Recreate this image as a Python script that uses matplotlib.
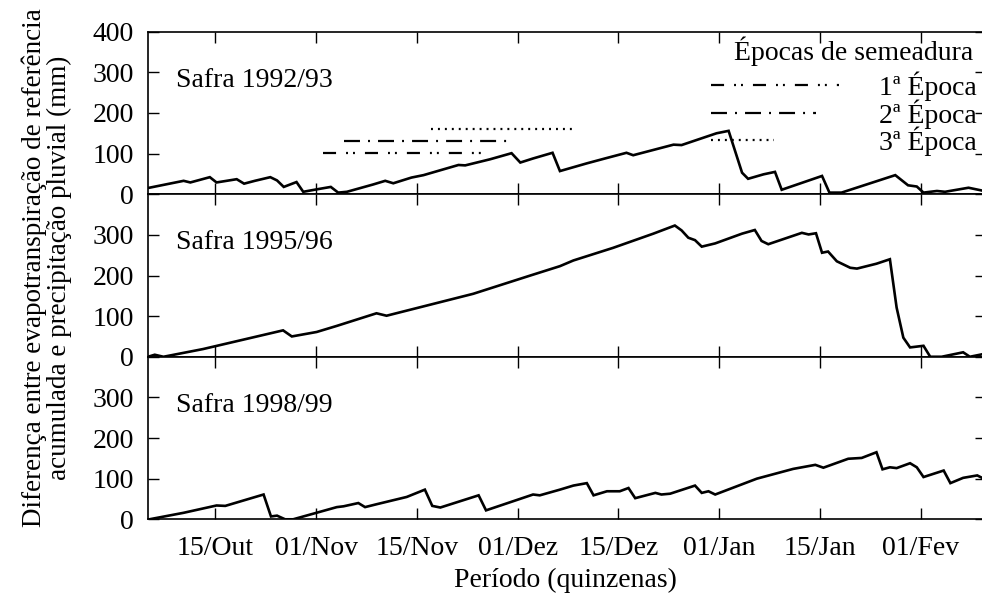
# -*- coding: UTF-8 -*-
import numpy as np
import matplotlib
matplotlib.use('Agg')
import matplotlib.pyplot as plt
from matplotlib.legend_handler import HandlerLine2D

plt.rcParams['font.family'] = ['Liberation Serif', 'DejaVu Serif']
plt.rcParams['lines.scale_dashes'] = False

# eixo x em dias (marcas a cada quinzena)
quinzenas = [15, 30, 45, 60, 75, 90, 105, 120]
rotulos_x = ['15/Out', '01/Nov', '15/Nov', '01/Dez', '15/Dez', '01/Jan', '15/Jan', '01/Fev']

# Safra 1992/93
dias_9293 = [5.2, 10.3, 11.3, 14.2, 15.2, 18.2, 19.3, 20.9, 23.2, 24.2, 25.2, 27.1, 28.1, 30.1,
	32.2, 33.3, 34.6, 38.5, 40.3, 41.5, 44.2, 46.0, 51.2, 52.2, 55.9, 59.1, 60.4, 62.3, 65.2,
	66.3, 70.3, 73.0, 76.2, 77.2, 80.2, 83.2, 84.4, 89.6, 91.4, 93.4, 94.3, 96.6, 98.3, 99.3,
	105.3, 106.4, 108.2, 116.2, 118.1, 119.4, 120.4, 122.4, 123.6, 127.1, 129.7]
dif_9293 = [16, 33, 29, 42, 29, 37, 26, 33, 42, 34, 18, 30, 6, 12,
	18, 4, 6, 24, 33, 27, 41, 47, 72, 71, 86, 101, 78, 88, 102,
	57, 76, 88, 102, 96, 109, 122, 121, 150, 156, 53, 38, 49, 55, 11,
	45, 4, 4, 47, 22, 19, 4, 8, 6, 16, 7]

# Safra 1995/96
dias_9596 = [5.2, 6.0, 7.3, 13.2, 25.1, 26.4, 30.1, 33.1, 39.0, 40.5, 53.4, 61.9, 66.3, 68.3,
	74.2, 80.2, 83.4, 84.4, 85.4, 86.4, 87.4, 89.4, 93.4, 95.3, 96.3, 97.3, 102.3, 103.3, 104.4,
	105.3, 106.2, 107.5, 109.5, 110.5, 113.4, 115.4, 116.4, 117.4, 118.4, 120.4, 121.4, 123.1,
	126.3, 127.3, 129.7]
dif_9596 = [1, 5, 0, 19, 65, 50, 61, 76, 107, 101, 155, 200, 223, 237,
	268, 303, 323, 311, 293, 287, 271, 279, 303, 312, 285, 277, 305, 301, 304,
	256, 259, 235, 219, 217, 229, 240, 121, 47, 23, 27, 0, 0,
	11, 0, 8]

# Safra 1998/99
dias_9899 = [5.2, 10.3, 15.2, 16.5, 22.2, 23.3, 24.2, 25.4, 26.6, 33.1, 34.1, 36.3, 37.3, 39.0,
	43.5, 46.2, 47.3, 48.5, 54.2, 55.3, 62.3, 63.3, 66.3, 68.3, 70.3, 71.3, 73.3, 75.2, 76.5,
	77.5, 80.5, 81.4, 82.7, 86.4, 87.4, 88.4, 89.4, 95.6, 101.0, 104.3, 105.5, 109.2, 111.2,
	113.4, 114.3, 115.4, 116.4, 118.4, 119.4, 120.4, 123.4, 124.4, 126.3, 128.4, 129.7]
dif_9899 = [0, 16, 34, 33, 61, 7, 9, 0, 0, 30, 32, 40, 30, 37,
	55, 73, 33, 29, 59, 22, 61, 59, 73, 83, 89, 59, 69, 69, 77,
	52, 65, 61, 63, 83, 65, 69, 61, 100, 124, 134, 127, 149, 151,
	165, 123, 128, 126, 138, 128, 104, 120, 89, 102, 108, 97]

# Épocas de semeadura (inicio, fim, nivel)
epocas = ['1ª Época', '2ª Época', '3ª Época']
epoca_inicio = [31.0, 34.2, 47.1]
epoca_fim = [55.6, 59.0, 68.2]
epoca_nivel = [101, 131, 160]
epoca_tracos = [(0, (9.4, 7.2, 1.4, 3.6, 1.4, 7.2)), (0, (11.5, 5.8, 1.4, 5.8)), (0, (1.4, 3.6))]
# comprimento relativo da amostra na legenda
epoca_amostra = [1.0, 0.82, 0.49]

safras = ['Safra 1992/93', 'Safra 1995/96', 'Safra 1998/99']


class HandlerCurto(HandlerLine2D):
	def __init__(self, fator, **kw):
		HandlerLine2D.__init__(self, **kw)
		self.fator = fator

	def get_xdata(self, legend, xdescent, ydescent, width, height, fontsize):
		return HandlerLine2D.get_xdata(self, legend, xdescent, ydescent, width*self.fator, height, fontsize)


def main():
	fig, axes = plt.subplots(3, 1, figsize=(9.82, 5.98), dpi=100, sharex=True,
		gridspec_kw=dict(left=148/982., right=986/982., bottom=1-519.3/598., top=1-31.7/598., hspace=0))

	series = [(dias_9293, dif_9293), (dias_9596, dif_9596), (dias_9899, dif_9899)]
	for i, ax in enumerate(axes):
		x, y = series[i]
		ax.plot(x, y, color='black', linewidth=1.9, solid_joinstyle='miter')
		ax.set_xlim(5, 129.7)
		ax.set_ylim(0, 400)
		ax.set_xticks(quinzenas)
		ax.set_yticks([0, 100, 200, 300, 400])
		if i > 0:
			ax.set_yticklabels(['0', '100', '200', '300', ''])
		ax.tick_params(direction='in', top=True, right=True, length=8, width=1.0,
			labelsize=20, pad=10, colors='black')
		ax.tick_params(axis='x', pad=12)
		for s in ax.spines.values():
			s.set_linewidth(1.2)
		ax.text(0.033, 0.66, safras[i], transform=ax.transAxes, fontsize=20, va='baseline', ha='left')

	axes[2].set_xticklabels(rotulos_x)

	# linhas das épocas de semeadura
	ax = axes[0]
	linhas = []
	for k in range(3):
		l, = ax.plot([epoca_inicio[k], epoca_fim[k]], [epoca_nivel[k], epoca_nivel[k]], color='black',
			linewidth=1.6, linestyle=epoca_tracos[k], label=epocas[k])
		linhas.append(l)
	ax.legend(loc='upper right', bbox_to_anchor=((977-148)/838., (194-71.5)/162.3), frameon=False,
		fontsize=20, borderpad=0, borderaxespad=0, labelspacing=-0.07,
		handlelength=4.6, handletextpad=1.45,
		handler_map={linhas[k]: HandlerCurto(epoca_amostra[k]) for k in range(3)})
	ax.text((973-148)/838., (194-51)/162.3, 'Épocas de semeadura', transform=ax.transAxes,
		fontsize=20, ha='right', va='center')

	fig.text(565/982., 1-580/598., 'Período (quinzenas)', fontsize=20, ha='center', va='center')
	fig.text(47/982., 1-268/598., 'Diferença entre evapotranspiração de referência\nacumulada e precipitação pluvial (mm)',
		fontsize=19.5, rotation=90, ha='center', va='center', multialignment='center', linespacing=1.0)

	fig.savefig('out.png', dpi=100)


if __name__ == '__main__':
	main()
